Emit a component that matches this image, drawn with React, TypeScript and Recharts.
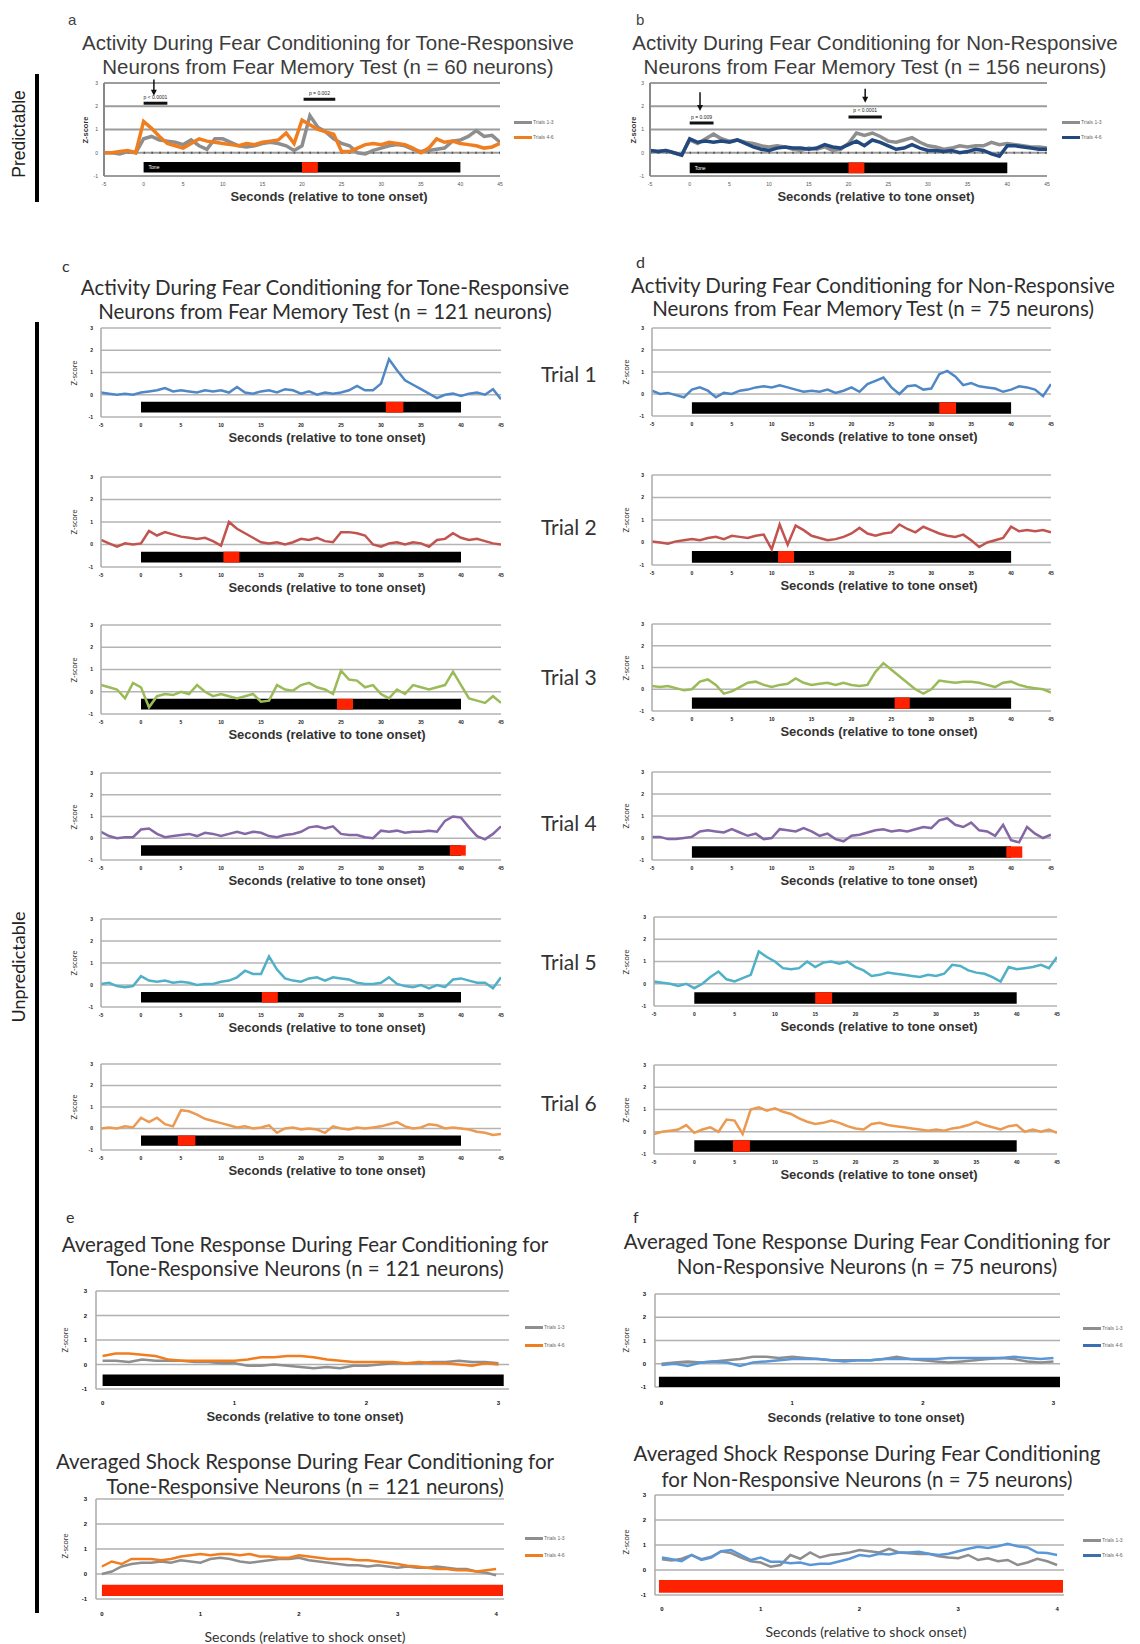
import React from 'react';
import { ComposedChart, Line, XAxis, YAxis, CartesianGrid, ReferenceArea, ReferenceLine, ReferenceDot } from 'recharts';

// ---------------- time axes & ticks ----------------
const T_SEC = [-5, -4, -3, -2, -1, 0, 1, 2, 3, 4, 5, 6, 7, 8, 9, 10, 11, 12, 13, 14, 15, 16, 17, 18, 19, 20, 21, 22, 23, 24, 25, 26, 27, 28, 29, 30, 31, 32, 33, 34, 35, 36, 37, 38, 39, 40, 41, 42, 43, 44, 45];
const T_TONE = [0, 0.1, 0.2, 0.3, 0.4, 0.5, 0.6, 0.7, 0.8, 0.9, 1.0, 1.1, 1.2, 1.3, 1.4, 1.5, 1.6, 1.7, 1.8, 1.9, 2.0, 2.1, 2.2, 2.3, 2.4, 2.5, 2.6, 2.7, 2.8, 2.9, 3.0];
const T_SHOCK = [0, 0.1, 0.2, 0.3, 0.4, 0.5, 0.6, 0.7, 0.8, 0.9, 1.0, 1.1, 1.2, 1.3, 1.4, 1.5, 1.6, 1.7, 1.8, 1.9, 2.0, 2.1, 2.2, 2.3, 2.4, 2.5, 2.6, 2.7, 2.8, 2.9, 3.0, 3.1, 3.2, 3.3, 3.4, 3.5, 3.6, 3.7, 3.8, 3.9, 4.0];
const SEC_TICKS = [-5, 0, 5, 10, 15, 20, 25, 30, 35, 40, 45];
const TONE_TICKS = [0, 1, 2, 3];
const SHOCK_TICKS = [0, 1, 2, 3, 4];
const Y_TICKS = [-1, 0, 1, 2, 3];
const LEGEND_LABELS = ['Trials 1-3', 'Trials 4-6'];

// ---------------- panel a / b (predictable) ----------------
const A_GRAY = [0.0, 0.0, -0.05, 0.05, 0.0, 0.6, 0.7, 0.55, 0.5, 0.45, 0.35, 0.55, 0.3, 0.15, 0.6, 0.6, 0.45, 0.3, 0.25, 0.3, 0.4, 0.45, 0.4, 0.3, 0.1, 0.3, 1.6, 1.1, 0.9, 0.6, 0.4, 0.3, 0.0, -0.05, 0.1, 0.2, 0.3, 0.35, 0.3, 0.15, 0.05, 0.1, 0.15, 0.2, 0.5, 0.55, 0.7, 0.95, 0.7, 0.75, 0.45];
const A_ORANGE = [0.0, 0.0, 0.05, 0.1, 0.0, 1.35, 1.05, 0.7, 0.4, 0.3, 0.2, 0.4, 0.6, 0.5, 0.45, 0.4, 0.35, 0.3, 0.4, 0.35, 0.45, 0.5, 0.55, 0.85, 0.4, 1.4, 1.2, 1.0, 0.9, 0.8, 0.05, 0.05, 0.2, 0.35, 0.4, 0.35, 0.45, 0.4, 0.35, 0.2, 0.0, 0.2, 0.6, 0.45, 0.5, 0.4, 0.35, 0.3, 0.2, 0.25, 0.4];
const B_GRAY = [0.1, 0.05, 0.1, 0.0, -0.1, 0.55, 0.4, 0.6, 0.8, 0.6, 0.5, 0.55, 0.45, 0.4, 0.3, 0.25, 0.3, 0.25, 0.15, 0.1, 0.2, 0.15, 0.25, 0.1, 0.15, 0.4, 0.85, 0.75, 0.85, 0.7, 0.5, 0.45, 0.55, 0.65, 0.45, 0.3, 0.25, 0.15, 0.2, 0.3, 0.25, 0.3, 0.3, 0.45, 0.35, 0.4, 0.35, 0.3, 0.25, 0.25, 0.2];
const B_NAVY = [0.1, 0.05, 0.1, 0.0, -0.1, 0.6, 0.45, 0.5, 0.45, 0.5, 0.45, 0.55, 0.4, 0.25, 0.15, 0.1, 0.2, 0.25, 0.2, 0.2, 0.15, 0.2, 0.35, 0.25, 0.2, 0.35, 0.5, 0.3, 0.55, 0.45, 0.3, 0.15, 0.2, 0.35, 0.2, 0.1, 0.1, 0.05, 0.1, 0.0, 0.05, 0.15, 0.1, -0.05, -0.15, 0.3, 0.3, 0.25, 0.2, 0.15, 0.15];

// ---------------- panel c (tone-responsive, trials 1-6) ----------------
const C1 = [0.1, 0.05, 0.0, 0.05, 0.0, 0.1, 0.15, 0.2, 0.3, 0.15, 0.2, 0.15, 0.1, 0.2, 0.15, 0.2, 0.1, 0.35, 0.1, 0.05, 0.15, 0.2, 0.1, 0.25, 0.2, 0.05, 0.15, 0.0, 0.1, 0.05, 0.1, 0.2, 0.4, 0.2, 0.2, 0.5, 1.6, 1.1, 0.65, 0.45, 0.25, 0.05, -0.15, 0.0, 0.05, -0.05, 0.05, 0.1, 0.0, 0.25, -0.2];
const C2 = [0.2, 0.05, -0.1, 0.05, 0.0, 0.05, 0.6, 0.4, 0.55, 0.45, 0.35, 0.3, 0.25, 0.3, 0.15, -0.05, 1.0, 0.7, 0.5, 0.3, 0.1, 0.05, 0.1, 0.0, 0.1, 0.25, 0.2, 0.3, 0.15, 0.1, 0.55, 0.55, 0.5, 0.4, 0.0, -0.1, 0.05, 0.1, 0.0, 0.1, 0.05, -0.1, 0.2, 0.25, 0.5, 0.3, 0.2, 0.25, 0.15, 0.05, 0.0];
const C3 = [0.3, 0.2, 0.1, -0.3, 0.4, 0.2, -0.7, -0.2, -0.1, -0.15, 0.0, -0.1, 0.3, 0.0, -0.2, -0.1, -0.2, -0.3, -0.2, -0.1, -0.45, -0.4, 0.3, 0.1, 0.05, 0.3, 0.4, 0.2, 0.1, -0.1, 0.95, 0.55, 0.5, 0.2, 0.3, -0.1, -0.3, 0.1, -0.1, 0.3, 0.2, 0.1, 0.2, 0.3, 0.9, 0.3, -0.3, -0.4, -0.5, -0.2, -0.5];
const C4 = [0.3, 0.1, 0.0, 0.05, 0.05, 0.4, 0.45, 0.2, 0.05, 0.1, 0.15, 0.2, 0.1, 0.25, 0.2, 0.1, 0.2, 0.3, 0.2, 0.3, 0.25, 0.1, 0.05, 0.15, 0.2, 0.3, 0.5, 0.55, 0.45, 0.55, 0.2, 0.15, 0.15, 0.05, 0.0, 0.35, 0.3, 0.35, 0.25, 0.3, 0.3, 0.35, 0.3, 0.8, 1.0, 0.95, 0.5, 0.1, -0.05, 0.2, 0.55];
const C5 = [0.05, 0.1, -0.05, -0.1, -0.05, 0.4, 0.2, 0.15, 0.2, 0.1, 0.15, 0.1, 0.0, 0.05, 0.05, 0.15, 0.2, 0.35, 0.65, 0.5, 0.5, 1.3, 0.7, 0.3, 0.2, 0.15, 0.3, 0.35, 0.2, 0.35, 0.3, 0.25, 0.1, 0.05, 0.05, 0.1, 0.35, 0.05, -0.05, -0.1, 0.0, -0.15, 0.0, -0.1, 0.25, 0.3, 0.2, 0.1, 0.1, -0.15, 0.35];
const C6 = [0.0, 0.05, 0.0, 0.1, 0.05, 0.5, 0.3, 0.5, 0.2, 0.1, 0.85, 0.8, 0.65, 0.45, 0.35, 0.25, 0.15, 0.05, 0.1, 0.0, 0.05, 0.15, -0.2, 0.0, 0.05, -0.05, 0.0, -0.05, -0.2, 0.1, 0.0, -0.05, 0.05, 0.0, 0.05, 0.1, 0.2, 0.3, 0.1, 0.0, 0.05, 0.2, 0.15, 0.0, 0.05, 0.0, -0.05, -0.15, -0.2, -0.3, -0.25];

// ---------------- panel d (non-responsive, trials 1-6) ----------------
const D1 = [0.15, 0.0, 0.05, -0.05, -0.15, 0.2, 0.3, 0.15, -0.15, 0.05, 0.0, 0.15, 0.2, 0.3, 0.35, 0.3, 0.4, 0.3, 0.2, 0.1, 0.15, 0.1, 0.2, 0.05, 0.15, 0.3, 0.1, 0.45, 0.6, 0.75, 0.3, 0.0, 0.35, 0.4, 0.2, 0.25, 0.9, 1.05, 0.8, 0.4, 0.5, 0.35, 0.3, 0.25, 0.1, 0.2, 0.35, 0.3, 0.2, -0.1, 0.45];
const D2 = [0.05, 0.0, -0.05, 0.05, 0.1, 0.15, 0.1, 0.2, 0.25, 0.15, 0.3, 0.25, 0.2, 0.3, 0.35, -0.3, 0.8, -0.1, 0.75, 0.55, 0.3, 0.2, 0.1, 0.15, 0.25, 0.4, 0.65, 0.4, 0.3, 0.4, 0.45, 0.8, 0.6, 0.45, 0.7, 0.55, 0.4, 0.3, 0.25, 0.35, 0.1, -0.2, 0.0, 0.1, 0.2, 0.7, 0.5, 0.55, 0.5, 0.55, 0.45];
const D3 = [0.15, 0.1, 0.15, 0.05, -0.05, 0.0, 0.35, 0.45, 0.2, -0.2, -0.1, 0.1, 0.3, 0.35, 0.2, 0.1, 0.2, 0.25, 0.5, 0.3, 0.2, 0.25, 0.3, 0.2, 0.3, 0.2, 0.15, 0.2, 0.8, 1.2, 0.9, 0.6, 0.3, 0.0, -0.2, 0.0, 0.4, 0.35, 0.3, 0.35, 0.35, 0.3, 0.2, 0.1, 0.3, 0.35, 0.2, 0.1, 0.05, 0.0, -0.15];
const D4 = [0.05, 0.05, -0.05, -0.05, 0.0, 0.05, 0.3, 0.35, 0.3, 0.25, 0.4, 0.25, 0.1, 0.2, -0.05, 0.0, 0.4, 0.35, 0.3, 0.45, 0.3, 0.1, 0.2, -0.05, -0.15, 0.1, 0.15, 0.25, 0.35, 0.4, 0.3, 0.35, 0.3, 0.4, 0.5, 0.45, 0.8, 0.9, 0.6, 0.5, 0.7, 0.35, 0.3, 0.1, 0.6, -0.1, -0.2, 0.5, 0.2, 0.0, 0.15];
const D5 = [0.1, 0.05, 0.0, -0.1, 0.0, -0.2, 0.0, 0.3, 0.55, 0.2, 0.1, 0.25, 0.4, 1.45, 1.2, 1.0, 0.7, 0.65, 0.7, 1.0, 0.75, 0.95, 1.0, 0.9, 1.0, 0.75, 0.6, 0.35, 0.4, 0.5, 0.45, 0.4, 0.35, 0.3, 0.4, 0.35, 0.45, 0.85, 0.8, 0.6, 0.5, 0.45, 0.3, 0.1, 0.75, 0.65, 0.7, 0.75, 0.85, 0.7, 1.2];
const D6 = [-0.1, 0.0, 0.05, 0.1, 0.3, -0.05, 0.1, 0.2, 0.0, 0.55, 0.5, -0.1, 1.0, 1.1, 0.95, 1.05, 0.9, 0.8, 0.6, 0.45, 0.35, 0.4, 0.5, 0.4, 0.25, 0.15, 0.1, 0.35, 0.4, 0.3, 0.25, 0.2, 0.15, 0.1, 0.05, 0.1, 0.05, 0.15, 0.2, 0.3, 0.45, 0.3, 0.2, 0.1, 0.25, 0.3, 0.0, 0.1, 0.0, 0.1, -0.05];

// shock (red box) intervals, seconds
const C_SHOCK = [[30.6, 32.8], [10.3, 12.3], [24.5, 26.5], [38.6, 40.6], [15.1, 17.1], [4.6, 6.8]];
const D_SHOCK = [[31.0, 33.1], [10.8, 12.8], [25.4, 27.3], [39.4, 41.4], [15.0, 17.1], [4.8, 6.9]];
const TRIAL_NAMES = ['Trial 1', 'Trial 2', 'Trial 3', 'Trial 4', 'Trial 5', 'Trial 6'];

// ---------------- panels e / f (averaged) ----------------
const E_TONE_GRAY = [0.15, 0.15, 0.1, 0.2, 0.15, 0.15, 0.15, 0.1, 0.1, 0.05, 0.05, -0.05, -0.05, 0.0, -0.05, -0.1, -0.15, -0.1, -0.15, -0.05, -0.05, 0.0, 0.05, 0.05, 0.05, 0.1, 0.1, 0.15, 0.1, 0.1, 0.05];
const E_TONE_ORANGE = [0.35, 0.45, 0.45, 0.4, 0.35, 0.2, 0.15, 0.15, 0.15, 0.15, 0.15, 0.2, 0.3, 0.3, 0.35, 0.35, 0.3, 0.2, 0.15, 0.1, 0.1, 0.1, 0.1, 0.05, 0.1, 0.05, 0.05, 0.0, -0.05, 0.05, 0.0];
const E_SHOCK_GRAY = [0.0, 0.1, 0.3, 0.4, 0.45, 0.45, 0.5, 0.45, 0.55, 0.5, 0.45, 0.6, 0.65, 0.6, 0.5, 0.45, 0.5, 0.55, 0.6, 0.6, 0.65, 0.55, 0.5, 0.45, 0.4, 0.35, 0.35, 0.3, 0.35, 0.3, 0.25, 0.3, 0.25, 0.25, 0.3, 0.25, 0.2, 0.2, 0.1, 0.05, -0.05];
const E_SHOCK_ORANGE = [0.3, 0.5, 0.4, 0.6, 0.6, 0.6, 0.55, 0.6, 0.7, 0.75, 0.8, 0.75, 0.8, 0.8, 0.75, 0.8, 0.7, 0.7, 0.65, 0.65, 0.75, 0.7, 0.65, 0.6, 0.6, 0.6, 0.55, 0.55, 0.5, 0.45, 0.4, 0.33, 0.3, 0.25, 0.2, 0.2, 0.15, 0.15, 0.1, 0.15, 0.2];
const F_TONE_GRAY = [0.0, 0.05, 0.1, 0.05, 0.1, 0.15, 0.2, 0.3, 0.3, 0.25, 0.3, 0.25, 0.2, 0.15, 0.15, 0.15, 0.15, 0.2, 0.3, 0.2, 0.15, 0.1, 0.05, 0.1, 0.15, 0.2, 0.25, 0.2, 0.1, 0.05, 0.1];
const F_TONE_BLUE = [-0.05, 0.0, -0.1, 0.05, 0.1, 0.05, -0.1, 0.05, 0.1, 0.15, 0.2, 0.2, 0.2, 0.15, 0.1, 0.15, 0.15, 0.2, 0.2, 0.2, 0.2, 0.2, 0.25, 0.25, 0.25, 0.25, 0.25, 0.3, 0.25, 0.2, 0.25];
const F_SHOCK_GRAY = [0.43, 0.38, 0.45, 0.6, 0.43, 0.53, 0.75, 0.68, 0.5, 0.35, 0.3, 0.13, 0.2, 0.6, 0.45, 0.7, 0.5, 0.6, 0.64, 0.7, 0.8, 0.75, 0.7, 0.85, 0.7, 0.67, 0.64, 0.65, 0.55, 0.5, 0.47, 0.6, 0.4, 0.47, 0.35, 0.4, 0.2, 0.3, 0.45, 0.35, 0.2];
const F_SHOCK_BLUE = [0.5, 0.43, 0.35, 0.6, 0.4, 0.5, 0.75, 0.8, 0.6, 0.4, 0.5, 0.33, 0.33, 0.27, 0.3, 0.2, 0.25, 0.25, 0.35, 0.45, 0.6, 0.55, 0.65, 0.62, 0.7, 0.7, 0.73, 0.65, 0.6, 0.65, 0.75, 0.85, 0.93, 0.88, 0.95, 1.05, 0.95, 0.9, 0.7, 0.68, 0.6];

// ---------------- styling ----------------
const GRAY = '#8E8E8E';
const ORANGE = '#F07E1F';
const NAVY = '#22497F';
const LIGHTBLUE = '#5B97D6';
const RED = '#FF2200';
const TRIAL_COLORS = ['#5088C5', '#C25450', '#9BBB59', '#8468A6', '#4FB0C8', '#EB9A52'];
const SANS = '"Liberation Sans", Arial, sans-serif';
const CAL = 'Lato, "Open Sans", sans-serif';

type Row = Record<string, number>;
function rows(xs: number[], cols: Record<string, number[]>): Row[] {
  return xs.map((t, i) => {
    const r: Row = { t };
    Object.keys(cols).forEach((k) => { r[k] = cols[k][i]; });
    return r;
  });
}

type Band = { x1: number; x2: number; y1: number; y2: number; fill: string; label?: string };
type Seg = { x1: number; y1: number; x2: number; y2: number; w: number };
type Note = { x: number; y: number; text: string };
type Ser = { key: string; color: string; width: number };

type PlotProps = {
  left: number; top: number; w: number; h: number;
  data: Row[]; series: Ser[];
  xDomain: [number, number]; xTicks: number[];
  bands: Band[];
  tickFont: number; tickColor: string; tickBold?: boolean;
  xTickGap: number; yTickGap: number;
  gridColor: string; gridW: number; axisColor: string;
  zeroDashed?: boolean;
  segs?: Seg[]; notes?: Note[]; heads?: { x: number; y: number }[];
};

function Plot(p: PlotProps) {
  const YW = 40, PT = 16, PR = 4, XH = 26;
  const tickStyle = { fontSize: p.tickFont, fill: p.tickColor, fontFamily: SANS, fontWeight: p.tickBold ? 700 : 400 };
  return (
    <div style={{ position: 'absolute', left: p.left - YW, top: p.top - PT }}>
      <ComposedChart width={YW + p.w + PR} height={PT + p.h + XH} data={p.data} margin={{ top: PT, right: PR, bottom: 0, left: 0 }}>
        <CartesianGrid vertical={false} stroke={p.gridColor} strokeWidth={p.gridW} />
        <XAxis dataKey="t" type="number" domain={p.xDomain} ticks={p.xTicks} allowDataOverflow interval={0}
          axisLine={false} tickLine={false} tickSize={0} tickMargin={p.xTickGap} height={XH} tick={tickStyle} />
        <YAxis type="number" domain={[-1, 3]} ticks={Y_TICKS} allowDataOverflow interval={0} width={YW}
          axisLine={{ stroke: p.axisColor, strokeWidth: p.gridW }} tickLine={false} tickSize={0} tickMargin={p.yTickGap} tick={tickStyle} />
        {p.bands.map((b, i) => (
          <ReferenceArea key={'band' + i} x1={b.x1} x2={b.x2} y1={b.y1} y2={b.y2} fill={b.fill} fillOpacity={1}
            stroke="none" ifOverflow="visible"
            label={b.label ? { value: b.label, position: 'insideLeft', fill: '#ffffff', fontSize: 5, fontFamily: SANS } : undefined} />
        ))}
        {p.zeroDashed && <ReferenceLine y={0} stroke="#555" strokeWidth={2.2} strokeDasharray="1.6 6.3" />}
        {p.series.map((s) => (
          <Line key={s.key} type="linear" dataKey={s.key} stroke={s.color} strokeWidth={s.width}
            dot={false} activeDot={false} isAnimationActive={false} />
        ))}
        {(p.segs || []).map((s, i) => (
          <ReferenceLine key={'seg' + i} segment={[{ x: s.x1, y: s.y1 }, { x: s.x2, y: s.y2 }]} stroke="#111" strokeWidth={s.w} ifOverflow="visible" />
        ))}
        {(p.heads || []).map((hd, i) => (
          <ReferenceDot key={'hd' + i} x={hd.x} y={hd.y} r={3} ifOverflow="visible"
            shape={(q: any) => <polygon points={`${q.cx - 3},${q.cy - 6} ${q.cx + 3},${q.cy - 6} ${q.cx},${q.cy}`} fill="#111" />} />
        ))}
        {(p.notes || []).map((n, i) => (
          <ReferenceDot key={'nt' + i} x={n.x} y={n.y} r={1} ifOverflow="visible"
            shape={(q: any) => <text x={q.cx} y={q.cy} textAnchor="middle" fontSize={5} fill="#222" fontFamily={SANS}>{n.text}</text>} />
        ))}
      </ComposedChart>
    </div>
  );
}

function Txt(props: { x: number; y: number; size: number; font: string; weight?: number; color?: string; anchor?: 'left' | 'middle'; children: React.ReactNode }) {
  const { x, y, size, font, weight = 400, color = '#333', anchor = 'middle' } = props;
  const lh = size * 1.2;
  const style: React.CSSProperties = {
    position: 'absolute', top: y - lh / 2, height: lh, lineHeight: `${lh}px`, fontSize: size, fontFamily: font,
    fontWeight: weight, color, whiteSpace: 'nowrap',
  };
  if (anchor === 'middle') { style.left = x - 400; style.width = 800; style.textAlign = 'center'; } else { style.left = x; }
  return <div style={style}>{props.children}</div>;
}

function VTxt(props: { x: number; y: number; size: number; font: string; weight?: number; color?: string; children: React.ReactNode }) {
  return (
    <div style={{
      position: 'absolute', left: props.x, top: props.y, transform: 'translate(-50%, -50%) rotate(-90deg)',
      fontSize: props.size, fontFamily: props.font, fontWeight: props.weight || 400, color: props.color || '#333', whiteSpace: 'nowrap',
    }}>{props.children}</div>
  );
}

function Legend2(props: { x: number; y1: number; y2: number; colors: string[] }) {
  return (
    <>
      {[props.y1, props.y2].map((y, i) => (
        <div key={i} style={{ position: 'absolute', left: props.x, top: y - 4, height: 8, display: 'flex', alignItems: 'center', fontFamily: SANS, fontSize: 5, color: '#666', whiteSpace: 'nowrap' }}>
          <span style={{ display: 'inline-block', width: 18, height: 3, background: props.colors[i], marginRight: 1 }} />
          {LEGEND_LABELS[i]}
        </div>
      ))}
    </>
  );
}

const C_TOPS = [328, 477, 625, 773, 919, 1064];
const C_HEIGHTS = [89, 90, 89, 87, 88, 86];
const D_TOPS = [328, 475, 624, 772, 917, 1065];
const D_HEIGHTS = [88, 90, 87, 88, 89, 89];
const TRIAL_LABEL_Y = [374, 527, 677, 823, 962, 1103];

const TITLE_A = 20.5;
const TITLE_C = 20.5;
const AXT = 13;

export default function App() {
  const dataA = rows(T_SEC, { g: A_GRAY, o: A_ORANGE });
  const dataB = rows(T_SEC, { g: B_GRAY, o: B_NAVY });
  const cSeries = [C1, C2, C3, C4, C5, C6];
  const dSeries = [D1, D2, D3, D4, D5, D6];
  const dataEt = rows(T_TONE, { g: E_TONE_GRAY, o: E_TONE_ORANGE });
  const dataEs = rows(T_SHOCK, { g: E_SHOCK_GRAY, o: E_SHOCK_ORANGE });
  const dataFt = rows(T_TONE, { g: F_TONE_GRAY, o: F_TONE_BLUE });
  const dataFs = rows(T_SHOCK, { g: F_SHOCK_GRAY, o: F_SHOCK_BLUE });

  const topCommon = {
    xDomain: [-5, 45] as [number, number], xTicks: SEC_TICKS, tickFont: 5, tickColor: '#555',
    xTickGap: 6, yTickGap: 6, gridColor: '#9C9C9C', gridW: 2, axisColor: '#888', zeroDashed: true,
  };
  const trialCommon = {
    xDomain: [-5, 45] as [number, number], xTicks: SEC_TICKS, tickFont: 5, tickColor: '#222', tickBold: true,
    xTickGap: 6, yTickGap: 8, gridColor: '#B4B4B4', gridW: 1.5, axisColor: '#AAAAAA',
  };
  const avgCommon = {
    tickFont: 6, tickColor: '#111', tickBold: true, yTickGap: 9, gridColor: '#B0B0B0', gridW: 1.5, axisColor: '#AAAAAA',
  };

  return (
    <div style={{ position: 'absolute', left: 0, top: 0, width: 1140, height: 1644, background: '#fff', overflow: 'hidden' }}>
      {/* side labels */}
      <div style={{ position: 'absolute', left: 35, top: 74, width: 4, height: 128, background: '#000' }} />
      <VTxt x={19} y={134} size={17.5} font={SANS} color="#222">Predictable</VTxt>
      <div style={{ position: 'absolute', left: 35, top: 322, width: 4, height: 1291, background: '#000' }} />
      <VTxt x={18} y={967} size={18} font={CAL} color="#222">Unpredictable</VTxt>

      {/* ---------- a ---------- */}
      <Txt x={68} y={20} size={15} font={SANS} anchor="left" color="#444">a</Txt>
      <Txt x={328} y={43} size={TITLE_A} font={SANS} color="#3c3c3c">Activity During Fear Conditioning for Tone-Responsive</Txt>
      <Txt x={328} y={67} size={TITLE_A} font={SANS} color="#3c3c3c">Neurons from Fear Memory Test (n = 60 neurons)</Txt>
      <Plot {...topCommon} left={104} top={83} w={396} h={93} data={dataA}
        series={[{ key: 'g', color: GRAY, width: 3.5 }, { key: 'o', color: ORANGE, width: 3.5 }]}
        bands={[{ x1: 0, x2: 40, y1: -0.85, y2: -0.4, fill: '#000', label: 'Tone' }, { x1: 20, x2: 22, y1: -0.85, y2: -0.4, fill: RED }]}
        segs={[{ x1: 0, x2: 3, y1: 2.13, y2: 2.13, w: 3 }, { x1: 20.2, x2: 24.2, y1: 2.3, y2: 2.3, w: 3 }, { x1: 1.3, x2: 1.3, y1: 3.15, y2: 2.6, w: 1.5 }]}
        heads={[{ x: 1.3, y: 2.45 }]}
        notes={[{ x: 1.5, y: 2.3, text: 'p < 0.0001' }, { x: 22.2, y: 2.48, text: 'p = 0.002' }]} />
      <Txt x={329} y={197} size={AXT} font={SANS} weight={700} color="#333">Seconds (relative to tone onset)</Txt>
      <VTxt x={85} y={130} size={7.5} font={SANS} weight={700} color="#333">Z-score</VTxt>
      <Legend2 x={514} y1={122} y2={137} colors={[GRAY, ORANGE]} />

      {/* ---------- b ---------- */}
      <Txt x={636} y={20} size={15} font={SANS} anchor="left" color="#444">b</Txt>
      <Txt x={875} y={43} size={TITLE_A} font={SANS} color="#3c3c3c">Activity During Fear Conditioning for Non-Responsive</Txt>
      <Txt x={875} y={67} size={TITLE_A} font={SANS} color="#3c3c3c">Neurons from Fear Memory Test (n = 156 neurons)</Txt>
      <Plot {...topCommon} left={650} top={83} w={397} h={93} data={dataB}
        series={[{ key: 'g', color: GRAY, width: 3.5 }, { key: 'o', color: NAVY, width: 3.5 }]}
        bands={[{ x1: 0, x2: 40, y1: -0.88, y2: -0.42, fill: '#000', label: 'Tone' }, { x1: 20, x2: 22, y1: -0.88, y2: -0.42, fill: RED }]}
        segs={[{ x1: 0, x2: 3, y1: 1.28, y2: 1.28, w: 3 }, { x1: 20, x2: 24.2, y1: 1.54, y2: 1.54, w: 3 },
          { x1: 1.3, x2: 1.3, y1: 2.6, y2: 1.95, w: 1.5 }, { x1: 22.1, x2: 22.1, y1: 2.75, y2: 2.3, w: 1.5 }]}
        heads={[{ x: 1.3, y: 1.8 }, { x: 22.1, y: 2.15 }]}
        notes={[{ x: 1.5, y: 1.45, text: 'p = 0.009' }, { x: 22.1, y: 1.74, text: 'p < 0.0001' }]} />
      <Txt x={876} y={197} size={AXT} font={SANS} weight={700} color="#333">Seconds (relative to tone onset)</Txt>
      <VTxt x={633} y={130} size={7.5} font={SANS} weight={700} color="#333">Z-score</VTxt>
      <Legend2 x={1062} y1={122} y2={137} colors={[GRAY, NAVY]} />

      {/* ---------- c ---------- */}
      <Txt x={62} y={266} size={16} font={CAL} anchor="left" color="#333">c</Txt>
      <Txt x={325} y={287} size={TITLE_C} font={CAL} color="#2e2e2e">Activity During Fear Conditioning for Tone-Responsive</Txt>
      <Txt x={325} y={311} size={TITLE_C} font={CAL} color="#2e2e2e">Neurons from Fear Memory Test (n = 121 neurons)</Txt>
      {cSeries.map((vals, i) => (
        <React.Fragment key={'c' + i}>
          <Plot {...trialCommon} left={101} top={C_TOPS[i]} w={400} h={C_HEIGHTS[i]} data={rows(T_SEC, { v: vals })}
            series={[{ key: 'v', color: TRIAL_COLORS[i], width: 2.5 }]}
            bands={[{ x1: 0, x2: 40, y1: -0.8, y2: -0.32, fill: '#000' }, { x1: C_SHOCK[i][0], x2: C_SHOCK[i][1], y1: -0.8, y2: -0.32, fill: RED }]} />
          <Txt x={327} y={C_TOPS[i] + C_HEIGHTS[i] + 21} size={AXT} font={SANS} weight={700} color="#333">Seconds (relative to tone onset)</Txt>
          <VTxt x={74} y={C_TOPS[i] + C_HEIGHTS[i] / 2} size={7.5} font={CAL} color="#333">Z-score</VTxt>
          <Txt x={541} y={TRIAL_LABEL_Y[i]} size={21} font={CAL} anchor="left" color="#333">{TRIAL_NAMES[i]}</Txt>
        </React.Fragment>
      ))}

      {/* ---------- d ---------- */}
      <Txt x={636} y={262} size={16} font={CAL} anchor="left" color="#333">d</Txt>
      <Txt x={873} y={285} size={TITLE_C} font={CAL} color="#2e2e2e">Activity During Fear Conditioning for Non-Responsive</Txt>
      <Txt x={873} y={308} size={TITLE_C} font={CAL} color="#2e2e2e">Neurons from Fear Memory Test (n = 75 neurons)</Txt>
      {dSeries.map((vals, i) => (
        <React.Fragment key={'d' + i}>
          <Plot {...trialCommon} left={i < 4 ? 652 : 654} top={D_TOPS[i]} w={i < 4 ? 399 : 403} h={D_HEIGHTS[i]} data={rows(T_SEC, { v: vals })}
            series={[{ key: 'v', color: TRIAL_COLORS[i], width: 2.5 }]}
            bands={[{ x1: 0, x2: 40, y1: -0.9, y2: -0.38, fill: '#000' }, { x1: D_SHOCK[i][0], x2: D_SHOCK[i][1], y1: -0.9, y2: -0.38, fill: RED }]} />
          <Txt x={879} y={D_TOPS[i] + D_HEIGHTS[i] + 21} size={AXT} font={SANS} weight={700} color="#333">Seconds (relative to tone onset)</Txt>
          <VTxt x={626} y={D_TOPS[i] + D_HEIGHTS[i] / 2} size={7.5} font={CAL} color="#333">Z-score</VTxt>
        </React.Fragment>
      ))}

      {/* ---------- e ---------- */}
      <Txt x={66} y={1217} size={16} font={CAL} anchor="left" color="#333">e</Txt>
      <Txt x={305} y={1244} size={TITLE_C} font={CAL} color="#2e2e2e">Averaged Tone Response During Fear Conditioning for</Txt>
      <Txt x={305} y={1268} size={TITLE_C} font={CAL} color="#2e2e2e">Tone-Responsive Neurons (n = 121 neurons)</Txt>
      <Plot {...avgCommon} left={96} top={1291} w={413} h={98} data={dataEt} xDomain={[-0.05, 3.08]} xTicks={TONE_TICKS} xTickGap={12}
        series={[{ key: 'g', color: GRAY, width: 2.5 }, { key: 'o', color: ORANGE, width: 2.5 }]}
        bands={[{ x1: 0, x2: 3.04, y1: -0.88, y2: -0.41, fill: '#000' }]} />
      <Txt x={305} y={1417} size={AXT} font={SANS} weight={700} color="#333">Seconds (relative to tone onset)</Txt>
      <VTxt x={65} y={1340} size={7.5} font={CAL} color="#333">Z-score</VTxt>
      <Legend2 x={525} y1={1327} y2={1345} colors={[GRAY, ORANGE]} />

      <Txt x={305} y={1461} size={TITLE_C} font={CAL} color="#2e2e2e">Averaged Shock Response During Fear Conditioning for</Txt>
      <Txt x={305} y={1486} size={TITLE_C} font={CAL} color="#2e2e2e">Tone-Responsive Neurons (n = 121 neurons)</Txt>
      <Plot {...avgCommon} left={96} top={1499} w={408} h={100} data={dataEs} xDomain={[-0.06, 4.08]} xTicks={SHOCK_TICKS} xTickGap={13}
        series={[{ key: 'g', color: GRAY, width: 2.5 }, { key: 'o', color: ORANGE, width: 2.5 }]}
        bands={[{ x1: 0, x2: 4.07, y1: -0.88, y2: -0.43, fill: RED }]} />
      <Txt x={305} y={1637} size={14} font={CAL} color="#333">Seconds (relative to shock onset)</Txt>
      <VTxt x={65} y={1546} size={7.5} font={CAL} color="#333">Z-score</VTxt>
      <Legend2 x={525} y1={1538} y2={1555} colors={[GRAY, ORANGE]} />

      {/* ---------- f ---------- */}
      <Txt x={633} y={1217} size={16} font={CAL} anchor="left" color="#333">f</Txt>
      <Txt x={867} y={1241} size={TITLE_C} font={CAL} color="#2e2e2e">Averaged Tone Response During Fear Conditioning for</Txt>
      <Txt x={867} y={1266} size={TITLE_C} font={CAL} color="#2e2e2e">Non-Responsive Neurons (n = 75 neurons)</Txt>
      <Plot {...avgCommon} left={655} top={1294} w={405} h={93} data={dataFt} xDomain={[-0.05, 3.05]} xTicks={TONE_TICKS} xTickGap={14}
        series={[{ key: 'g', color: GRAY, width: 2.5 }, { key: 'o', color: LIGHTBLUE, width: 2.5 }]}
        bands={[{ x1: -0.02, x2: 3.05, y1: -1.0, y2: -0.56, fill: '#000' }]} />
      <Txt x={866} y={1418} size={AXT} font={SANS} weight={700} color="#333">Seconds (relative to tone onset)</Txt>
      <VTxt x={626} y={1340} size={7.5} font={CAL} color="#333">Z-score</VTxt>
      <Legend2 x={1083} y1={1328} y2={1345} colors={[GRAY, '#3C6FB0']} />

      <Txt x={867} y={1453} size={TITLE_C} font={CAL} color="#2e2e2e">Averaged Shock Response During Fear Conditioning</Txt>
      <Txt x={867} y={1479} size={TITLE_C} font={CAL} color="#2e2e2e">for Non-Responsive Neurons (n = 75 neurons)</Txt>
      <Plot {...avgCommon} left={655} top={1495} w={409} h={100} data={dataFs} xDomain={[-0.07, 4.07]} xTicks={SHOCK_TICKS} xTickGap={12}
        series={[{ key: 'g', color: GRAY, width: 2.5 }, { key: 'o', color: LIGHTBLUE, width: 2.5 }]}
        bands={[{ x1: -0.03, x2: 4.06, y1: -0.91, y2: -0.4, fill: RED }]} />
      <Txt x={866} y={1632} size={14} font={CAL} color="#333">Seconds (relative to shock onset)</Txt>
      <VTxt x={626} y={1542} size={7.5} font={CAL} color="#333">Z-score</VTxt>
      <Legend2 x={1083} y1={1540} y2={1555} colors={[GRAY, '#3C6FB0']} />
    </div>
  );
}
